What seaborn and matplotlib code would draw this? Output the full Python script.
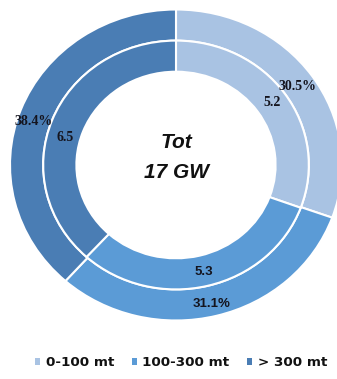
import matplotlib
matplotlib.use('Agg')
import matplotlib.pyplot as plt
from matplotlib.patches import Patch
import seaborn as sns

# data
categories = ['0-100 mt', '100-300 mt', '> 300 mt']
outer_pct = [30.5, 31.1, 38.4]      # share of total (outer ring)
inner_gw = [5.2, 5.3, 6.5]          # capacity in GW (inner ring)
total_label = 'Tot\n17 GW'

colors = ['#a9c3e3', '#5b9bd6', '#4a7db4']

sns.set_theme(style='white')
plt.rcParams['font.family'] = ['DejaVu Sans']

fig = plt.figure(figsize=(3.37, 3.79), dpi=100)
ax = fig.add_axes([0, 0, 1, 1])

wedge_kw = dict(edgecolor='white', linewidth=1.5)
outer, _ = ax.pie(outer_pct, radius=1.0, colors=colors, startangle=90,
                  counterclock=False, wedgeprops=dict(width=0.2, **wedge_kw))
inner, _ = ax.pie(inner_gw, radius=0.8, colors=colors, startangle=90,
                  counterclock=False, wedgeprops=dict(width=0.2, **wedge_kw))

# slightly wider than tall, like the original; right side is cut off
ax.set_aspect('auto')
ax.set_xlim(-176 / 166, (337 - 176) / 166)
ax.set_ylim(-214 / 155.5, (379 - 214) / 155.5)
ax.axis('off')

# labels (placed where the original had them)
serif = dict(family='Liberation Serif', fontweight='bold', fontsize=10, color='#14141e')
sans = dict(family='Liberation Sans', fontweight='bold', fontsize=9.5, color='#14141e')
ax.text(0.729, 0.508, f'{outer_pct[0]}%', ha='center', va='center', **serif)
ax.text(0.578, 0.405, f'{inner_gw[0]}', ha='center', va='center', **serif)
ax.text(-0.861, 0.277, f'{outer_pct[2]}%', ha='center', va='center', **serif)
ax.text(-0.669, 0.180, f'{inner_gw[2]}', ha='center', va='center', **serif)
ax.text(0.169, -0.688, f'{inner_gw[1]}', ha='center', va='center', **sans)
ax.text(0.217, -0.894, f'{outer_pct[1]}%', ha='center', va='center', **sans)

# centre text
top, bottom = total_label.split('\n')
centre = dict(family='Liberation Sans', fontweight='bold', style='italic',
              fontsize=15, color='#111111', ha='center', va='center')
ax.text(0.0, (165 - 142) / 155.5, top, **centre)
ax.text(0.0, (165 - 172) / 155.5, bottom, **centre)

handles = [Patch(facecolor=c, edgecolor='none') for c in colors]
fig.legend(handles, categories, loc='center', bbox_to_anchor=(181 / 337, 16 / 379),
           ncol=3, frameon=False, prop=dict(weight='bold', size=9.7),
           handlelength=0.4, handleheight=0.4, handletextpad=0.4,
           columnspacing=1.3, labelcolor='#111111')

fig.savefig('out.png', dpi=100)
